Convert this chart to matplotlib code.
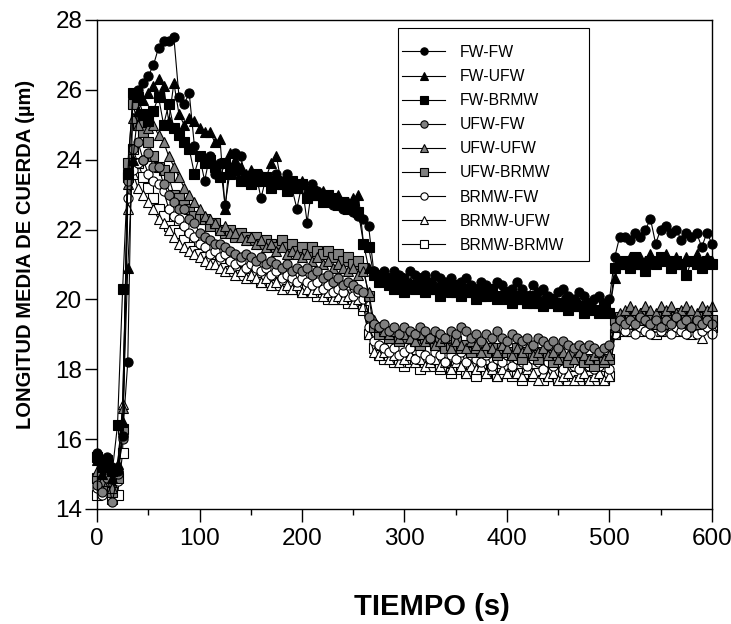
"""
Longitud media de cuerda vs tiempo
==================================

Nueve combinaciones de pretratamiento, una muestra cada 5 s.
"""

import numpy as np
import matplotlib.pyplot as plt
from matplotlib.patches import Rectangle
from matplotlib.ticker import MultipleLocator

plt.rcParams['font.family'] = ['Liberation Sans', 'DejaVu Sans']

# sampling time (s)
tiempo = np.arange(0, 605, 5)

fw_fw = [15.6, 15.3, 15.5, 15.2, 15.1, 16.1,
         18.2, 25.9, 26.0, 26.2, 26.4, 26.7, 27.2, 27.4, 27.4, 27.5, 25.8, 25.6, 25.9, 24.4, 24.1,
         23.4, 24.1, 23.6, 23.9, 22.7, 23.7, 24.2, 24.1, 23.5, 23.4,
         23.6, 22.9, 23.5, 23.3, 23.6, 23.4, 23.6, 23.2, 22.6, 23.3,
         22.2, 23.3, 23.1, 22.9, 23.0, 22.7, 22.8, 22.6, 22.7, 22.5,
         22.4, 22.3, 22.1, 20.8,
         20.7, 20.8, 20.6, 20.8, 20.7, 20.6, 20.8, 20.7, 20.6, 20.7,
         20.5, 20.7, 20.6, 20.5, 20.6, 20.4, 20.5, 20.6, 20.4, 20.3,
         20.5, 20.4, 20.3, 20.5, 20.4, 20.2, 20.3, 20.5, 20.3, 20.1,
         20.4, 20.2, 20.3, 20.1, 20.0, 20.2, 20.3, 20.1, 20.0, 20.2,
         20.1, 19.9, 20.0, 20.1, 19.9, 20.0,
         21.2, 21.8, 21.8, 21.7, 21.9, 21.8, 22.0, 22.3, 21.6, 22.0,
         22.1, 21.9, 22.0, 21.7, 21.9, 21.8, 21.9, 21.5, 21.9, 21.6]

fw_ufw = [15.4, 15.0, 15.3, 14.9, 15.3, 16.5,
          20.9, 24.0, 25.4, 25.7, 25.9, 26.1, 26.3, 26.1, 25.1, 26.2, 25.3, 25.0, 25.2, 25.1, 24.9,
          24.8, 24.8, 24.5, 24.6, 22.6, 24.2, 24.0, 23.8, 23.6, 23.7,
          23.4, 23.6, 23.5, 23.9, 24.1, 23.3, 23.5, 23.4, 23.2, 23.4,
          23.1, 23.2, 23.0, 23.1, 22.9, 22.8, 23.0, 22.7, 22.8, 22.9,
          23.0, 21.6, 20.9, 20.8,
          20.6, 20.7, 20.5, 20.6, 20.4, 20.6, 20.5, 20.4, 20.6, 20.5,
          20.3, 20.4, 20.5, 20.3, 20.4, 20.2, 20.4, 20.3, 20.2, 20.3,
          20.1, 20.3, 20.2, 20.1, 20.2, 20.0, 20.2, 20.1, 20.0, 20.1,
          19.9, 20.1, 20.0, 19.9, 20.0, 19.8, 20.0, 19.9, 19.8, 19.9,
          19.7, 19.9, 19.8, 19.7, 19.8, 19.7,
          20.6, 21.0, 21.1, 21.2, 21.0, 21.2, 21.1, 21.3, 21.1, 21.2,
          21.3, 21.1, 21.2, 21.0, 21.2, 21.1, 21.3, 21.0, 21.2, 21.1]

fw_brmw = [15.5, 15.2, 15.4, 15.1, 16.4, 20.3,
           23.6, 25.9, 25.8, 25.3, 25.1, 25.4, 25.8, 25.0, 25.6, 24.9, 24.7, 24.5, 24.3, 23.6, 24.1,
           23.9, 24.0, 23.8, 23.5, 23.9, 23.6, 23.7, 23.4, 23.5, 23.3,
           23.6, 23.4, 23.5, 23.2, 23.4, 23.3, 23.1, 23.4, 23.2, 23.3,
           22.9, 23.1, 23.0, 22.8, 23.0, 22.9, 22.7, 22.8, 22.6, 22.7,
           22.5, 21.6, 21.5, 20.7,
           20.5, 20.6, 20.4, 20.3, 20.5, 20.2, 20.4, 20.3, 20.5, 20.2,
           20.4, 20.3, 20.1, 20.3, 20.2, 20.4, 20.1, 20.3, 20.2, 20.0,
           20.2, 20.1, 20.3, 20.0, 20.1, 20.2, 19.9, 20.1, 20.0, 19.9,
           20.1, 19.9, 19.8, 20.0, 19.9, 19.8, 19.9, 19.7, 19.9, 19.8,
           19.6, 19.8, 19.7, 19.6, 19.8, 19.6,
           20.9, 21.0, 21.1, 20.9, 21.2, 21.0, 20.8, 21.1, 21.0, 21.2,
           21.1, 20.9, 21.1, 21.0, 20.7, 21.1, 21.0, 20.9, 21.1, 21.0]

ufw_fw = [14.7, 14.5, 14.9, 14.2, 15.0, 16.0,
          23.4, 24.3, 24.5, 24.0, 24.2, 23.8, 23.8, 23.3, 23.0, 22.8, 22.6, 22.6, 22.3, 22.2, 21.9,
          21.8, 21.7, 21.6, 21.6, 21.5, 21.4, 21.3, 21.2, 21.3, 21.2,
          21.1, 21.2, 21.0, 21.1, 21.0, 20.9, 21.0, 20.8, 20.9, 20.8,
          20.9, 20.7, 20.8, 20.6, 20.7, 20.5, 20.6, 20.4, 20.5, 20.4,
          20.3, 20.2, 19.5, 19.3,
          19.2, 19.3, 19.1, 19.2, 19.0, 19.2, 19.1, 19.0, 19.2, 19.1,
          18.9, 19.1, 19.0, 18.9, 19.1, 19.0, 19.2, 19.1, 18.9, 19.0,
          18.8, 19.0, 18.9, 19.1, 18.9, 18.8, 19.0, 18.9, 18.8, 18.9,
          18.7, 18.9, 18.8, 18.7, 18.8, 18.6, 18.8, 18.7, 18.6, 18.7,
          18.6, 18.7, 18.6, 18.5, 18.6, 18.7,
          19.2, 19.4, 19.3, 19.4, 19.3, 19.5, 19.4, 19.3, 19.4, 19.2,
          19.4, 19.3, 19.5, 19.3, 19.4, 19.2, 19.4, 19.3, 19.4, 19.3]

ufw_ufw = [15.1, 14.8, 15.0, 14.6, 15.2, 16.9,
           23.3, 25.2, 25.0, 25.3, 24.9, 25.0, 24.7, 24.5, 24.1, 23.8, 23.5, 23.2, 23.0, 22.8, 22.6,
           22.4, 22.3, 22.2, 22.0, 22.1, 21.9, 21.9, 21.8, 21.7, 21.8,
           21.6, 21.7, 21.5, 21.6, 21.4, 21.5, 21.3, 21.4, 21.3, 21.2,
           21.3, 21.1, 21.2, 21.0, 21.1, 20.9, 21.0, 20.9, 20.8, 20.9,
           20.7, 20.8, 20.2, 19.4,
           19.2, 19.1, 19.0, 19.1, 18.9, 19.0, 18.9, 18.8, 19.0, 18.8,
           18.9, 18.7, 18.8, 18.9, 18.6, 18.8, 18.7, 18.6, 18.8, 18.7,
           18.5, 18.7, 18.6, 18.5, 18.7, 18.6, 18.4, 18.6, 18.5, 18.6,
           18.4, 18.5, 18.6, 18.4, 18.5, 18.3, 18.5, 18.4, 18.3, 18.5,
           18.4, 18.3, 18.4, 18.5, 18.3, 18.4,
           19.2, 19.6, 19.7, 19.8, 19.7, 19.6, 19.8, 19.7, 19.6, 19.8,
           19.7, 19.8, 19.6, 19.7, 19.8, 19.7, 19.6, 19.8, 19.7, 19.8]

ufw_brmw = [14.9, 14.6, 14.8, 14.5, 14.9, 16.3,
            23.9, 25.6, 25.0, 24.8, 24.5, 24.1, 23.8, 23.7, 23.5, 23.0, 22.9, 22.7, 22.6, 22.4, 22.3,
            22.3, 22.1, 22.2, 22.0, 21.9, 22.0, 21.8, 21.9, 21.8, 21.7,
            21.8, 21.6, 21.7, 21.6, 21.5, 21.7, 21.5, 21.6, 21.4, 21.5,
            21.3, 21.5, 21.4, 21.3, 21.4, 21.2, 21.3, 21.1, 21.2, 21.0,
            21.1, 20.9, 20.1, 19.2,
            19.0, 19.1, 18.9, 19.0, 18.8, 18.9, 19.0, 18.8, 18.7, 18.9,
            18.8, 18.7, 18.8, 18.6, 18.7, 18.8, 18.6, 18.7, 18.5, 18.6,
            18.7, 18.5, 18.6, 18.4, 18.6, 18.5, 18.4, 18.6, 18.3, 18.5,
            18.4, 18.3, 18.5, 18.4, 18.2, 18.4, 18.3, 18.2, 18.4, 18.3,
            18.2, 18.3, 18.1, 18.3, 18.2, 18.3,
            19.4, 19.5, 19.4, 19.6, 19.5, 19.4, 19.6, 19.5, 19.3, 19.5,
            19.6, 19.4, 19.5, 19.6, 19.4, 19.5, 19.3, 19.5, 19.6, 19.4]

brmw_fw = [14.6, 14.4, 14.7, 14.6, 14.8, 16.1,
           22.9, 23.7, 23.9, 24.0, 23.6, 23.4, 23.3, 23.1, 22.6, 22.4, 22.3, 22.1, 21.9, 21.8, 21.6,
           21.5, 21.3, 21.4, 21.2, 21.3, 21.1, 21.0, 21.1, 20.9, 21.0,
           20.9, 20.8, 20.9, 20.7, 20.8, 20.6, 20.7, 20.6, 20.5, 20.6,
           20.5, 20.4, 20.5, 20.3, 20.4, 20.2, 20.3, 20.2, 20.4, 20.1,
           20.2, 20.0, 19.2, 18.8,
           18.7, 18.6, 18.5, 18.6, 18.4, 18.5, 18.6, 18.3, 18.5, 18.4,
           18.3, 18.5, 18.4, 18.2, 18.4, 18.3, 18.5, 18.2, 18.4, 18.3,
           18.2, 18.4, 18.1, 18.3, 18.2, 18.4, 18.1, 18.3, 18.2, 18.1,
           18.3, 18.2, 18.0, 18.2, 18.1, 18.3, 18.0, 18.2, 18.1, 18.0,
           18.2, 18.1, 18.0, 18.1, 18.2, 18.0,
           19.0, 19.2, 19.1, 19.3, 19.0, 19.2, 19.1, 19.0, 19.2, 19.1,
           19.3, 19.0, 19.2, 19.1, 19.0, 19.2, 19.0, 19.1, 19.2, 19.0]

brmw_ufw = [14.9, 14.7, 15.0, 14.9, 15.1, 17.0,
            22.6, 23.6, 23.2, 23.0, 22.8, 22.6, 22.3, 22.2, 22.0, 21.8, 21.6, 21.5, 21.4, 21.3, 21.2,
            21.1, 21.0, 21.0, 20.9, 20.8, 20.9, 20.7, 20.8, 20.6, 20.7,
            20.6, 20.5, 20.6, 20.4, 20.5, 20.3, 20.4, 20.3, 20.4, 20.2,
            20.3, 20.2, 20.3, 20.1, 20.2, 20.0, 20.1, 20.0, 20.1, 19.9,
            20.0, 19.8, 19.0, 18.5,
            18.4, 18.5, 18.3, 18.4, 18.2, 18.3, 18.4, 18.2, 18.3, 18.1,
            18.2, 18.3, 18.1, 18.2, 18.0, 18.2, 18.1, 17.9, 18.1, 18.0,
            18.1, 17.9, 18.0, 17.8, 18.0, 17.9, 18.1, 17.9, 17.8, 18.0,
            17.9, 17.7, 17.9, 17.8, 17.9, 17.7, 17.8, 17.9, 17.7, 17.8,
            17.9, 17.7, 17.8, 17.9, 17.7, 17.8,
            19.0, 19.2, 19.3, 19.1, 19.3, 19.2, 19.4, 19.2, 19.3, 19.1,
            19.3, 19.2, 19.4, 19.3, 19.1, 19.3, 19.2, 18.9, 19.3, 19.2]

brmw_brmw = [14.4, 14.5, 14.5, 14.3, 14.4, 15.6,
             23.5, 24.3, 23.9, 23.5, 23.2, 22.9, 22.6, 22.4, 22.1, 22.0, 21.9, 21.7, 21.5, 21.4, 21.3,
             21.2, 21.1, 21.0, 21.1, 20.9, 20.8, 20.9, 20.7, 20.8, 20.6,
             20.7, 20.5, 20.6, 20.5, 20.4, 20.5, 20.3, 20.4, 20.3, 20.2,
             20.3, 20.2, 20.1, 20.2, 20.0, 20.1, 20.0, 20.1, 19.9, 20.0,
             19.9, 19.7, 19.0, 18.6,
             18.4, 18.3, 18.4, 18.2, 18.3, 18.1, 18.2, 18.3, 18.0, 18.2,
             18.1, 18.2, 18.0, 18.1, 17.9, 18.1, 18.0, 17.9, 18.1, 17.8,
             18.0, 17.9, 18.0, 17.8, 17.9, 18.0, 17.8, 17.9, 17.7, 17.9,
             17.8, 17.9, 17.7, 17.8, 17.9, 17.7, 17.8, 17.7, 17.8, 17.7,
             17.8, 17.8, 17.7, 17.8, 17.7, 17.8,
             19.0, 19.3, 19.1, 19.2, 19.4, 19.1, 19.3, 19.2, 19.0, 19.3,
             19.2, 19.4, 19.1, 19.3, 19.2, 19.0, 19.3, 19.2, 19.4, 19.2]

labels = ['FW-FW', 'FW-UFW', 'FW-BRMW', 'UFW-FW', 'UFW-UFW', 'UFW-BRMW',
          'BRMW-FW', 'BRMW-UFW', 'BRMW-BRMW']
series = [fw_fw, fw_ufw, fw_brmw, ufw_fw, ufw_ufw, ufw_brmw,
          brmw_fw, brmw_ufw, brmw_brmw]
markers = ['o', '^', 's'] * 3
fills = ['black'] * 3 + ['#808080'] * 3 + ['white'] * 3

fig = plt.figure(figsize=(7.31, 6.24), dpi=100)
ax = fig.add_axes([0.1327, 0.1843, 0.8413, 0.7837])

handles = [None] * len(series)
# draw the white group first so the black curves sit on top
for i in reversed(range(len(series))):
    y = series[i]
    ms = 7.2 if markers[i] == '^' else 6.6
    line, = ax.plot(tiempo[:len(y)], y, color='black', lw=0.8,
                    marker=markers[i], ms=ms, mfc=fills[i], mec='black',
                    mew=0.8, clip_on=False, label=labels[i])
    handles[i] = line

ax.set_xlim(0, 600)
ax.set_ylim(14, 28)
ax.xaxis.set_major_locator(MultipleLocator(100))
ax.xaxis.set_minor_locator(MultipleLocator(50))
ax.yaxis.set_major_locator(MultipleLocator(2))

ax.tick_params(axis='both', which='major', direction='out', width=1,
               labelsize=17.5, color='black')
ax.tick_params(axis='x', which='major', length=9.4, pad=4)
ax.tick_params(axis='y', which='major', length=8.6, pad=2)
ax.tick_params(axis='x', which='minor', direction='out', length=4.3, width=1)
for s in ax.spines.values():
    s.set_linewidth(1.0)
    s.set_color('black')

ax.set_xlabel('TIEMPO (s)', fontsize=21, fontweight='bold')
ax.xaxis.set_label_coords(0.545, -0.172)
ax.set_ylabel('LONGITUD MEDIA DE CUERDA (µm)', fontsize=14.5,
              fontweight='bold')
ax.yaxis.set_label_coords(-0.101, 0.52)

# legend entries without frame, box drawn separately to match the layout
leg = ax.legend(handles, labels, loc='upper left',
                bbox_to_anchor=(0.496, 0.949), fontsize=11.3, frameon=False,
                borderaxespad=0, borderpad=0, labelspacing=0.58,
                handlelength=2.74, handletextpad=0.95, markerscale=0.8)
ax.add_patch(Rectangle((0.4894, 0.5072), 0.3106, 0.4764,
                       transform=ax.transAxes, fill=False,
                       edgecolor='black', lw=0.8, zorder=5))

fig.savefig('out.png', dpi=100)
